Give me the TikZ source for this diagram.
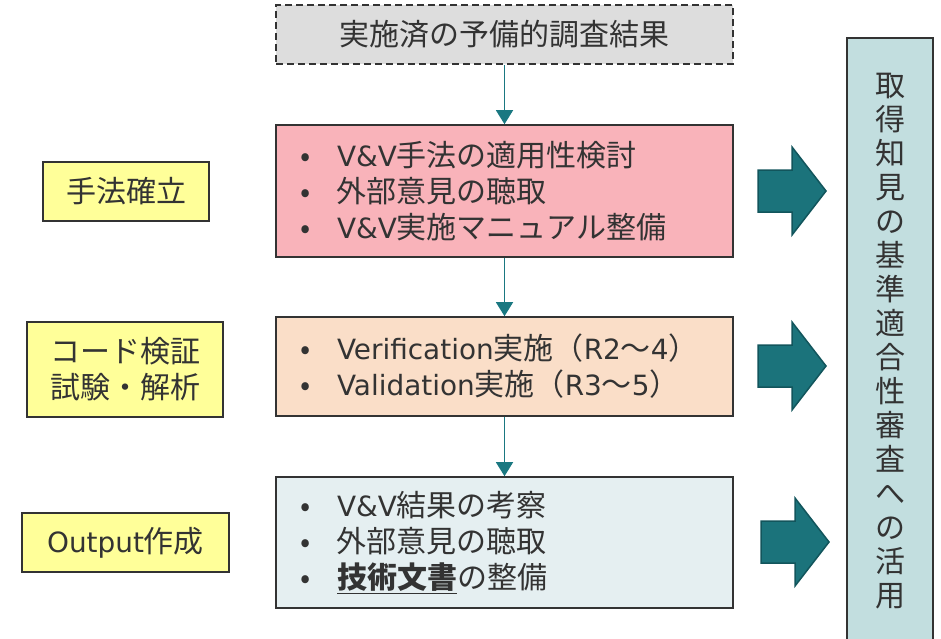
\documentclass[tikz,border=0pt]{standalone}
\usepackage{fontspec}
\setmainfont{Noto Sans CJK JP}
\newfontfamily\lat[Scale=0.93]{DejaVu Sans}
\usetikzlibrary{arrows.meta, positioning}
\definecolor{ink}{HTML}{333333}
\definecolor{flowteal}{HTML}{1A7881}
\definecolor{bigteal}{HTML}{1B737B}
\definecolor{bigedge}{HTML}{12555C}
\definecolor{pinkfill}{HTML}{F9B3BA}
\definecolor{peachfill}{HTML}{FADEC8}
\definecolor{icefill}{HTML}{E5EFF1}
\definecolor{grayfill}{HTML}{DDDDDD}
\definecolor{yellowfill}{HTML}{FFFF99}
\definecolor{usefill}{HTML}{C2DEDF}
\newcommand{\bul}{\makebox[37pt][l]{•}}

\begin{document}
\begin{tikzpicture}[x=1pt,y=-1pt,font=\fontsize{30}{36}\selectfont,text=ink,
    box/.style={draw=ink,line width=1.6pt,inner xsep=24pt,inner ysep=0pt,
      minimum width=457pt,text width=409pt,align=left},
    tag/.style={draw=ink,line width=1.6pt,fill=yellowfill,inner sep=0pt,align=center},
    flow/.style={flowteal,line width=1.4pt,-{Triangle[width=17pt,length=14pt]}},
    big/.style={fill=bigteal,draw=bigedge,line width=1.5pt}]
    \clip (0,0) rectangle (941,638);

    % middle column
    \node[box,dashed,dash pattern=on 7pt off 4pt,fill=grayfill,align=center,minimum height=59pt]
      (prev) at (504.5,34.5) {実施済の予備的調査結果};
    \node[box,fill=pinkfill,minimum height=132pt] (est) at (504.5,191)
      {\bul{\lat V\&V}手法の適用性検討\\
       \bul 外部意見の聴取\\
       \bul{\lat V\&V}実施マニュアル整備};
    \node[box,fill=peachfill,minimum height=99pt] (test) at (504.5,366.5)
      {\bul{\lat Verification}実施（{\lat R2}～{\lat 4}）\\
       \bul{\lat Validation}実施（{\lat R3}～{\lat 5}）};
    \node[box,fill=icefill,minimum height=131pt] (out) at (504.5,542.5)
      {\bul{\lat V\&V}結果の考察\\
       \bul 外部意見の聴取\\
       \bul\underline{\textbf{技術文書}}の整備};

    \draw[flow] (prev) -- (est);
    \draw[flow] (est) -- (test);
    \draw[flow] (test) -- (out);

    % left tags
    \node[tag,minimum width=166pt,minimum height=59pt] (tagest) at (126,191.5) {手法確立};
    \node[tag,minimum width=196pt,minimum height=95pt] (tagtest) at (125,369.5) {コード検証\\試験・解析};
    \node[tag,minimum width=207pt,minimum height=59pt] (tagout) at (125.5,542.5) {{\lat Output}作成};

    % right column
    \node[draw=ink,line width=1.6pt,fill=usefill,minimum width=86pt,minimum height=606pt,
      inner sep=0pt,align=center,font=\fontsize{30}{34}\selectfont] (use) at (890,341)
      {取\\得\\知\\見\\の\\基\\準\\適\\合\\性\\審\\査\\へ\\の\\活\\用};

    \foreach \x/\y in {758/191, 758/366, 761/542}
      \draw[big] (\x,{\y-21}) -- ({\x+34},{\y-21}) -- ({\x+34},{\y-44}) -- ({\x+68},\y)
        -- ({\x+34},{\y+44}) -- ({\x+34},{\y+21}) -- (\x,{\y+21}) -- cycle;
\end{tikzpicture}
\end{document}
